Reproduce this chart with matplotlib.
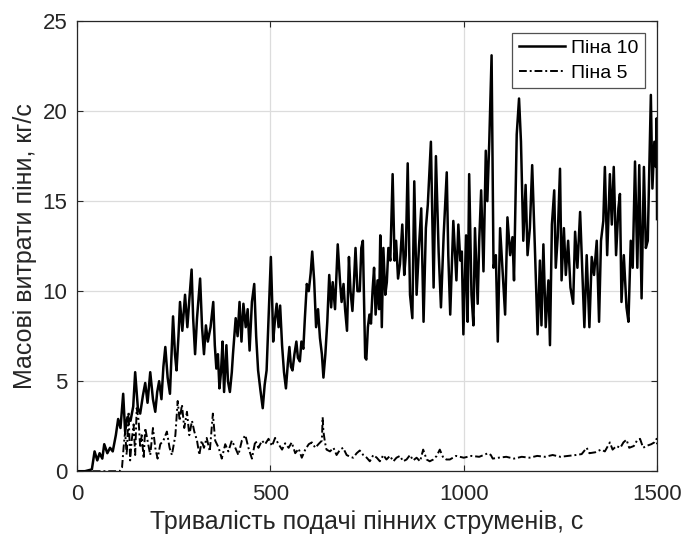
import matplotlib
matplotlib.use("Agg")
import matplotlib.pyplot as plt

plt.rcParams['font.family'] = ['Liberation Sans', 'DejaVu Sans']

# Піна 10 (time, s ; mass flow, kg/s)
t10 = [0, 20, 38, 45, 52, 58, 65, 70, 78, 85, 92, 100, 106, 112, 119, 124, 130, 138, 145, 150,
       157, 163, 170, 176, 182, 189, 196, 202, 207, 212, 218, 223, 228, 234, 240, 248, 253, 257,
       262, 266, 272, 279, 285, 290, 296, 300, 305, 310, 318, 323, 328, 333, 338, 345, 352, 356,
       360, 364, 368, 372, 376, 380, 386, 390, 395, 400, 403, 410, 415, 420, 425, 430, 436, 441,
       446, 452, 458, 463, 468, 474, 480, 485, 490, 496, 501, 505, 507, 512, 516, 521, 525, 530,
       535, 540, 545, 549, 553, 557, 562, 567, 571, 576, 580, 585, 589, 594, 599, 604, 608, 613,
       618, 623, 628, 633, 637, 642, 647, 652, 657, 661, 667, 674, 680, 684, 689, 693, 698, 703,
       707, 712, 716, 720, 725, 731, 735, 739, 742, 745, 748, 752, 756, 760, 764, 768, 772, 777,
       781, 784, 788, 792, 797, 801, 805, 810, 816, 821, 825, 830, 835, 841, 846, 850, 855, 861,
       867, 872, 878, 884, 890, 896, 902, 907, 915, 922, 928, 935, 941, 948, 956, 960, 965, 973,
       981, 986, 991, 995, 999, 1006, 1010, 1014, 1020, 1025, 1029, 1036, 1040, 1045, 1051, 1057,
       1061, 1066, 1072, 1077, 1083, 1088, 1094, 1101, 1107, 1113, 1120, 1126, 1130, 1137, 1143,
       1148, 1154, 1160, 1165, 1171, 1177, 1184, 1191, 1197, 1201, 1206, 1212, 1219, 1223, 1228,
       1234, 1238, 1243, 1249, 1253, 1259, 1264, 1270, 1276, 1283, 1288, 1294, 1301, 1307, 1312,
       1318, 1325, 1331, 1337, 1344, 1350, 1355, 1361, 1365, 1371, 1378, 1383, 1388, 1394, 1400,
       1404, 1408, 1414, 1421, 1426, 1432, 1437, 1443, 1449, 1454, 1460, 1466, 1471, 1476, 1480,
       1484, 1488, 1493, 1497, 1499, 1500]
v10 = [0, 0, 0.1, 1.1, 0.6, 1.0, 0.7, 1.5, 1.0, 1.3, 1.1, 2.0, 2.9, 2.4, 4.3, 2.2, 3.0, 2.8, 3.6, 5.5,
       3.5, 3.2, 4.2, 4.9, 3.8, 5.5, 4.0, 3.3, 4.4, 5.0, 4.0, 5.8, 6.9, 5.2, 4.3, 8.6, 6.5, 5.6,
       7.5, 9.4, 7.8, 9.8, 8.0, 9.5, 11.2, 8.5, 6.5, 8.5, 10.7, 8.0, 6.5, 8.1, 7.2, 8.0, 9.4, 7.0,
       5.7, 6.5, 4.6, 5.5, 7.2, 4.4, 7.0, 5.0, 4.4, 5.5, 6.5, 8.5, 7.5, 9.4, 7.2, 9.3, 8.0, 9.0,
       6.7, 9.4, 10.4, 7.5, 5.6, 4.5, 3.5, 4.8, 5.6, 9.1, 11.9, 9.0, 7.2, 8.5, 9.3, 8.0, 9.2, 7.0,
       5.5, 4.6, 6.0, 6.9, 5.8, 5.6, 6.5, 7.2, 6.3, 6.1, 7.2, 6.8, 8.5, 10.4, 10.0, 11.0, 12.2, 10.6,
       8.0, 9.0, 7.4, 6.5, 5.2, 6.5, 8.3, 10.9, 9.1, 10.5, 9.0, 12.6, 10.5, 9.4, 10.4, 9.0, 7.8, 11.9,
       10.0, 8.9, 10.5, 12.4, 10.0, 10.0, 12.4, 12.8, 9.5, 6.3, 6.2, 8.0, 8.7, 8.2, 10.0, 11.3, 8.7, 10.6,
       9.0, 13.1, 8.0, 12.4, 9.8, 10.5, 12.4, 11.7, 16.5, 11.7, 12.8, 10.7, 11.5, 13.7, 10.9, 12.0, 17.1, 9.8,
       8.5, 16.1, 9.8, 12.4, 14.6, 8.3, 13.5, 14.8, 18.3, 10.2, 17.5, 12.2, 9.1, 13.1, 16.6, 12.0, 8.7, 13.9,
       10.6, 13.7, 11.7, 12.2, 7.6, 13.1, 8.3, 16.5, 9.8, 8.1, 13.5, 9.3, 12.8, 15.6, 11.1, 17.8,
       15.0, 18.3, 23.1, 11.3, 12.0, 7.2, 13.5, 10.9, 8.7, 14.1, 12.0, 13.0, 10.6, 18.7, 20.7,
       18.3, 12.8, 15.9, 12.0, 13.5, 17.0, 12.4, 7.6, 11.7, 8.1, 12.6, 8.0, 10.6, 7.0, 13.7,
       15.6, 11.3, 13.0, 16.8, 10.6, 13.5, 10.9, 12.8, 10.2, 9.3, 13.3, 11.3, 14.4, 10.9, 8.0,
       12.0, 8.0, 11.9, 10.9, 12.8, 8.3, 12.8, 13.9, 16.9, 12.0, 16.5, 13.7, 16.9, 12.0, 14.6,
       15.4, 9.4, 12.0, 9.1, 8.3, 12.8, 11.3, 17.2, 11.3, 17.0, 9.6, 16.9, 12.4, 12.8, 16.9,
       20.9, 15.7, 18.3, 16.9, 19.6, 14.0]

# Піна 5
t5 = [0, 110, 116, 120, 124, 128, 133, 137, 141, 146, 150, 154, 159, 163, 167, 172, 176, 182, 189,
      196, 202, 208, 215, 223, 232, 239, 245, 254, 260, 265, 271, 277, 284, 290, 297, 303, 310,
      316, 322, 328, 335, 343, 351, 357, 366, 374, 383, 391, 400, 409, 417, 426, 435, 443, 452,
      461, 469, 478, 486, 495, 504, 512, 521, 530, 538, 547, 555, 564, 573, 581, 590, 599, 607,
      616, 624, 633, 635, 637, 641, 645, 654, 663, 671, 680, 688, 697, 706, 714, 723, 731, 740,
      749, 757, 766, 775, 783, 792, 800, 809, 818, 826, 835, 843, 852, 861, 869, 878, 887, 895,
      904, 912, 921, 930, 938, 947, 955, 964, 980, 1000, 1020, 1040, 1063, 1070, 1075, 1090,
      1110, 1130, 1150, 1170, 1190, 1210, 1230, 1250, 1270, 1290, 1305, 1318, 1325, 1340, 1355,
      1365, 1378, 1385, 1395, 1405, 1413, 1421, 1428, 1440, 1448, 1456, 1464, 1472, 1485, 1493,
      1499, 1500]
v5 = [0, 0, 0.2, 1.3, 2.2, 0.9, 3.3, 0.6, 1.7, 2.6, 0.9, 3.5, 2.8, 1.3, 2.0, 0.7, 2.4, 1.7, 0.9,
      2.4, 1.3, 0.7, 1.5, 1.7, 2.2, 1.3, 0.9, 2.0, 3.9, 2.8, 3.7, 2.4, 3.3, 2.0, 2.8, 2.2, 1.7,
      0.9, 1.7, 1.3, 1.85, 1.1, 3.2, 1.7, 1.3, 0.7, 1.5, 1.1, 1.7, 1.3, 0.9, 1.7, 2.0, 1.3, 0.7,
      1.7, 1.3, 1.7, 1.5, 1.8, 1.4, 1.85, 1.5, 1.2, 1.55, 1.3, 1.6, 1.0, 1.25, 0.75, 1.2, 1.5, 1.6,
      1.3, 1.5, 1.7, 3.0, 2.2, 1.6, 1.2, 1.1, 1.3, 0.9, 1.2, 1.3, 0.9, 0.8, 0.75, 1.0, 1.15, 0.9,
      0.75, 0.55, 0.9, 0.75, 0.55, 0.9, 0.65, 0.85, 0.55, 0.75, 0.85, 0.55, 0.65, 0.9, 0.6, 0.75, 0.55, 1.2,
      0.65, 0.55, 0.65, 0.85, 1.2, 0.75, 0.65, 0.65, 0.85, 0.75, 0.85, 0.8, 1.0, 0.9, 0.7, 0.75,
      0.8, 0.7, 0.8, 0.75, 0.85, 0.8, 0.9, 0.8, 0.85, 0.9, 0.95, 1.3, 1.0, 1.05, 1.2,
      1.1, 1.6, 1.2, 1.4, 1.3, 1.6, 1.75, 1.3, 1.4, 1.7, 1.8, 1.3, 1.4, 1.5, 1.6,
      1.8, 1.5]

xticks = [0, 500, 1000, 1500]
yticks = [0, 5, 10, 15, 20, 25]

fig = plt.figure(figsize=(6.83, 5.41), dpi=100)
ax = fig.add_axes([0.113, 0.129, 0.849, 0.832])

ax.plot(t10, v10, color='black', lw=1.8, label='Піна 10')
ax.plot(t5, v5, color='black', lw=1.4, dashes=(4, 1.5, 1, 1.5), label='Піна 5')

ax.set_xlim(0, 1500)
ax.set_ylim(0, 25)
ax.set_xticks(xticks)
ax.set_yticks(yticks)
ax.grid(True, color='#dcdcdc', lw=0.9)
ax.set_axisbelow(True)
ax.tick_params(direction='in', labelsize=16, top=True, right=True, colors='#262626', length=4)
ax.tick_params(axis='x', pad=9)
ax.tick_params(axis='y', pad=7)
for sp in ax.spines.values():
    sp.set_color('#262626')
    sp.set_linewidth(0.9)

ax.set_xlabel('Тривалість подачі пінних струменів, с', fontsize=18, color='#262626', labelpad=4)
ax.set_ylabel('Масові витрати піни, кг/с', fontsize=18, color='#262626', labelpad=4)

leg = ax.legend(loc='upper right', fontsize=14, frameon=True, fancybox=False,
                edgecolor='#262626', handlelength=2.4, borderaxespad=0.6,
                labelspacing=0.35, borderpad=0.35, handletextpad=0.3)
leg.get_frame().set_linewidth(0.9)

fig.savefig('out.png', dpi=100)
